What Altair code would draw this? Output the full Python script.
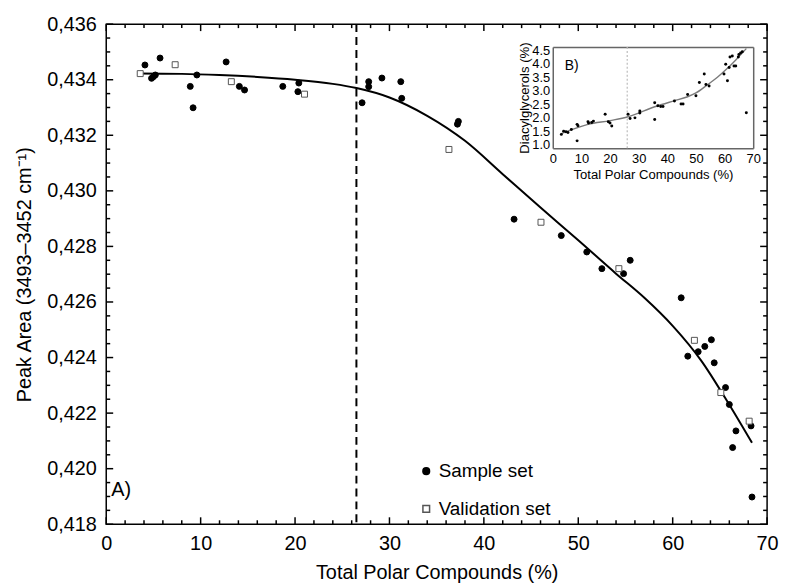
import altair as alt
import pandas as pd

# ---------------- main panel data (A) ----------------
sample_x = [4.1, 4.8, 5.0, 5.2, 5.7, 8.9, 9.2, 9.6, 12.7, 14.1, 14.65, 18.7, 20.4, 20.3,
            27.1, 27.8, 27.8, 29.2, 31.2, 31.3, 37.2, 37.3, 43.2, 48.2, 50.9, 52.5, 54.8,
            55.5, 60.9, 61.6, 62.7, 63.4, 64.1, 64.4, 65.6, 66.0, 66.35, 66.7, 68.3, 68.4]
sample_y = [0.43453, 0.43405, 0.43411, 0.43417, 0.43478, 0.43376, 0.43299, 0.43417, 0.43464,
            0.43376, 0.43363, 0.43376, 0.43388, 0.43357, 0.43317, 0.43393, 0.43375, 0.43406,
            0.43393, 0.43333, 0.43240, 0.43250, 0.42898, 0.42839, 0.42780, 0.42720, 0.42702,
            0.42750, 0.42615, 0.42405, 0.42421, 0.42440, 0.42464, 0.42381, 0.42292, 0.42231,
            0.42076, 0.42136, 0.42154, 0.41898]
valid_x = [3.6, 7.3, 13.25, 21.0, 36.3, 46.05, 54.3, 62.3, 65.1, 68.1]
valid_y = [0.43422, 0.43454, 0.43393, 0.43348, 0.43149, 0.42887, 0.42720, 0.42462, 0.42274, 0.42171]
curve_x = [3.6, 8, 12, 16, 20, 24, 26.5, 30, 34, 38, 42, 46, 50, 54, 57, 60, 63, 66, 68.4]
curve_y = [0.43422, 0.43421, 0.43417, 0.43410, 0.43400, 0.43385, 0.43370, 0.43336, 0.43270,
           0.43180, 0.43060, 0.42940, 0.42822, 0.42702, 0.42615, 0.42514, 0.42390, 0.42230,
           0.42093]
cutoff_x = [26.5]
set_names = ["Sample set", "Validation set"]

# axis tick values (major = labelled, minor = small inward ticks)
x_major = list(range(0, 71, 10))
x_minor = [v for v in range(2, 70, 2) if v % 10 != 0]
y_major = [round(0.418 + 0.002 * i, 3) for i in range(10)]
y_minor = [round(0.418 + 0.0005 * i, 4) for i in range(1, 36) if i % 4 != 0]

# ---------------- inset data (B) ----------------
inset_x = [3.0, 3.8, 4.6, 5.3, 6.5, 8.5, 8.8, 8.5, 12.3, 12.5, 13.6, 14.2, 18.3, 19.4, 20.0,
           20.6, 26.3, 27.0, 28.7, 30.4, 30.4, 35.6, 35.6, 36.7, 37.7, 38.5, 42.5, 44.8, 45.5,
           47.1, 50.0, 51.2, 52.9, 53.5, 54.6, 59.8, 61.0, 60.4, 61.6, 63.3, 63.9, 61.9, 62.7,
           64.8, 65.0, 65.6, 66.2, 67.6]
inset_y = [1.39, 1.51, 1.49, 1.46, 1.57, 1.76, 1.71, 1.15, 1.86, 1.81, 1.83, 1.88, 2.13, 1.86,
           1.81, 1.70, 2.13, 1.98, 2.00, 2.25, 2.18, 2.56, 1.94, 2.45, 2.42, 2.42, 2.62, 2.51,
           2.51, 2.86, 2.82, 3.31, 3.62, 3.23, 3.18, 3.62, 3.37, 3.98, 3.86, 3.92, 3.92, 4.25,
           4.29, 4.25, 4.34, 4.40, 4.44, 2.19]
inset_curve_x = [3.0, 12.3, 20.0, 26.3, 35.6, 42.0, 47.1, 50.0, 54.1, 57.5, 60.9, 64.0, 67.6]
inset_curve_y = [1.42, 1.76, 1.90, 2.04, 2.41, 2.62, 2.78, 2.92, 3.23, 3.50, 3.82, 4.15, 4.56]
inset_cutoff_x = [26.0]

FONT = "Liberation Sans"
W, H = 666, 504

pts = pd.DataFrame({
    "x": sample_x + valid_x,
    "y": sample_y + valid_y,
    "set": [set_names[0]] * len(sample_x) + [set_names[1]] * len(valid_x),
})
curve = pd.DataFrame({"x": curve_x, "y": curve_y})

X_DOMAIN = [0, 70]
Y_DOMAIN = [0.418, 0.436]
xs = alt.Scale(domain=X_DOMAIN, nice=False, zero=False)
ys = alt.Scale(domain=Y_DOMAIN, nice=False, zero=False)

x_axis_main = alt.Axis(orient="bottom", values=x_major, title="Total Polar Compounds (%)", labelFontSize=20,
                       titleFontSize=20, ticks=False, domain=False, labelFlush=False, grid=False,
                       labelPadding=9, titlePadding=10, labelFont=FONT, titleFont=FONT,
                       titleFontWeight="normal", labelColor="black", titleColor="black")
y_axis_main = alt.Axis(orient="left", values=y_major, title="Peak Area (3493\u20133452 cm\u207b\u00b9)",
                       labelExpr="replace(format(datum.value, '.3f'), '.', ',')",
                       labelFontSize=20, titleFontSize=20, ticks=False, labelFlush=False, grid=False,
                       domain=False, labelPadding=10, titlePadding=12, labelFont=FONT,
                       titleFont=FONT, titleFontWeight="normal", labelColor="black",
                       titleColor="black")

legend = alt.Legend(title=None, orient="none", legendX=313, legendY=441, labelFontSize=19,
                    labelFont=FONT, labelColor="black", symbolSize=45, rowPadding=18,
                    labelOffset=3, symbolOpacity=1)

points = alt.Chart(pts).mark_point(filled=True, size=36, strokeWidth=1, opacity=1).encode(
    x=alt.X("x:Q", scale=xs, axis=x_axis_main),
    y=alt.Y("y:Q", scale=ys, axis=y_axis_main),
    shape=alt.Shape("set:N", scale=alt.Scale(domain=set_names, range=["circle", "square"]), legend=legend),
    fill=alt.Fill("set:N", scale=alt.Scale(domain=set_names, range=["black", "white"]), legend=legend),
    stroke=alt.Stroke("set:N", scale=alt.Scale(domain=set_names, range=["black", "#555555"]), legend=legend),
)

curve_layer = alt.Chart(curve).mark_line(color="black", strokeWidth=2, interpolate="monotone").encode(
    x=alt.X("x:Q", scale=xs, axis=None),
    y=alt.Y("y:Q", scale=ys, axis=None),
)

rule = alt.Chart(pd.DataFrame({"x": cutoff_x})).mark_rule(
    color="black", strokeWidth=2, strokeDash=[8, 5]
).encode(x=alt.X("x:Q", scale=xs, axis=None))

text_a = alt.Chart(pd.DataFrame({"t": ["A)"]})).mark_text(
    align="left", baseline="middle", fontSize=20, font=FONT, color="black"
).encode(x=alt.value(5), y=alt.value(470), text="t:N")

main = alt.layer(rule, curve_layer, points, text_a).resolve_axis(
    x="independent", y="independent")

# ---------------- inward frame ticks (own copy of the same scales) ----------------
txs = alt.Scale(domain=X_DOMAIN, nice=False, zero=False)
tys = alt.Scale(domain=Y_DOMAIN, nice=False, zero=False)


def x_edge_ticks(values, y0, y1):
    return alt.Chart(pd.DataFrame({"v": values})).mark_rule(color="black", strokeWidth=1.5).encode(
        x=alt.X("v:Q", scale=txs, axis=None), y=alt.value(y0), y2=alt.value(y1))


def y_edge_ticks(values, x0, x1):
    return alt.Chart(pd.DataFrame({"v": values})).mark_rule(color="black", strokeWidth=1.5).encode(
        y=alt.Y("v:Q", scale=tys, axis=None), x=alt.value(x0), x2=alt.value(x1))


MINOR, MAJOR = 4, 7
ticks_group = alt.layer(
    x_edge_ticks(x_minor, H, H - MINOR), x_edge_ticks(x_major, H, H - MAJOR),
    x_edge_ticks(x_minor, 0, MINOR), x_edge_ticks(x_major, 0, MAJOR),
    y_edge_ticks(y_minor, 0, MINOR), y_edge_ticks(y_major, 0, MAJOR),
    y_edge_ticks(y_minor, W, W - MINOR), y_edge_ticks(y_major, W, W - MAJOR),
)

# ---------------- inset ----------------
IX0, IX1, IY0, IY1 = 450, 652, 125, 23
ixs = alt.Scale(domain=[0, 70], range=[IX0, IX1], nice=False, zero=False)
iys = alt.Scale(domain=[0.88, 4.62], range=[IY0, IY1], nice=False, zero=False)
GREY = "#666666"

inset_x_axis = alt.Axis(orient="bottom", offset=IY0 - H, values=x_major, title="Total Polar Compounds (%)",
                        labelFontSize=13, titleFontSize=13.2, ticks=False, labelFlush=False, grid=False,
                        domainColor=GREY, domainWidth=1.5, labelPadding=4, titlePadding=4,
                        labelFont=FONT, titleFont=FONT, titleFontWeight="normal",
                        labelColor="black", titleColor="black")
inset_y_axis = alt.Axis(orient="left", offset=-IX0, values=[1.0, 1.5, 2.0, 2.5, 3.0, 3.5, 4.0, 4.5],
                        format=".1f", title="Diacylglycerols (%)", labelFontSize=13, labelFlush=False,
                        titleFontSize=13.2, ticks=False, domainColor=GREY, grid=False,
                        domainWidth=1.5, labelPadding=3, titlePadding=0, labelFont=FONT,
                        titleFont=FONT, titleFontWeight="normal", labelColor="black",
                        titleColor="black")


def frame_axis(orient, offset):
    return alt.Axis(orient=orient, offset=offset, labels=False, ticks=False,
                    title=None, grid=False, domainColor=GREY, domainWidth=1.5)


ipts = pd.DataFrame({"x": inset_x, "y": inset_y})
icurve = pd.DataFrame({"x": inset_curve_x, "y": inset_curve_y})
irule = pd.DataFrame({"x": inset_cutoff_x, "lo": [0.88], "hi": [4.62]})

inset_pts = alt.Chart(ipts).mark_circle(size=9, color="black", opacity=1).encode(
    x=alt.X("x:Q", scale=ixs, axis=inset_x_axis),
    y=alt.Y("y:Q", scale=iys, axis=inset_y_axis),
)
inset_curve = alt.Chart(icurve).mark_line(color="#7a7a7a", strokeWidth=1.4, interpolate="monotone").encode(
    x=alt.X("x:Q", scale=ixs, axis=frame_axis("bottom", IY1 - H)),
    y=alt.Y("y:Q", scale=iys, axis=frame_axis("left", -IX1)),
)
inset_rule = alt.Chart(irule).mark_rule(color="#bbbbbb", strokeWidth=1.2, strokeDash=[2, 2]).encode(
    x=alt.X("x:Q", scale=ixs, axis=None),
    y=alt.Y("lo:Q", scale=iys, axis=None),
    y2="hi:Q",
)
text_b = alt.Chart(pd.DataFrame({"t": ["B)"]})).mark_text(
    align="left", baseline="middle", fontSize=14, font=FONT, color="black"
).encode(x=alt.value(462), y=alt.value(42), text="t:N")

inset = alt.layer(inset_rule, inset_curve, inset_pts, text_b).resolve_axis(
    x="independent", y="independent")

chart = alt.layer(ticks_group, main, inset).resolve_scale(
    x="independent", y="independent"
).properties(
    width=W, height=H,
    autosize=alt.AutoSizeParams(type="none"),
    padding={"left": 99, "top": 14, "right": 12, "bottom": 66},
).configure_view(
    stroke="black", strokeWidth=1.5
)

chart.save("out.html", embed_options={"renderer": "svg", "actions": False})
